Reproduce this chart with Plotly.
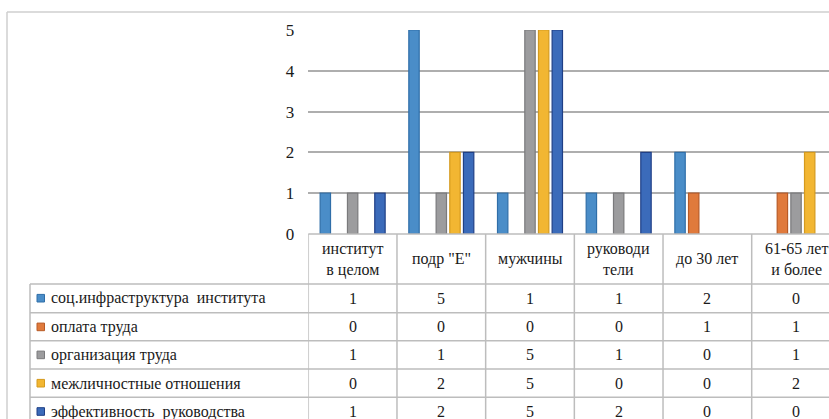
import plotly.graph_objects as go

categories = ["институт<br>в целом", "подр \"Е\"", "мужчины", "руководи<br>тели", "до 30 лет", "61-65 лет<br>и более"]
series_names = ["соц.инфраструктура \u00a0института", "оплата труда", "организация труда",
                "межличностные отношения", "эффективность \u00a0руководства"]
soc_infra = [1, 5, 1, 1, 2, 0]
oplata = [0, 0, 0, 0, 1, 1]
organizaciya = [1, 1, 5, 1, 0, 1]
mezhlich = [0, 2, 5, 0, 0, 2]
effekt = [1, 2, 5, 2, 0, 0]
y_ticks = [0, 1, 2, 3, 4, 5]

series_values = [soc_infra, oplata, organizaciya, mezhlich, effekt]
fills = ["#4A8DC8", "#E07A3C", "#9C9C9E", "#F2B632", "#3B6BBA"]
edges = ["#2F6EA8", "#B85A26", "#7A7A7C", "#D49A1E", "#1F3F86"]

W, H = 829, 419
def px(x):
    return x / W
def py(y):
    return 1 - y / H

FONT = "Liberation Serif, Times New Roman, Tinos, serif"
TXT = "#1a1a1a"
LINE = "#BDBDBD"

xidx = list(range(len(categories)))
fig = go.Figure()
for name, vals, fc, ec in zip(series_names, series_values, fills, edges):
    fig.add_trace(go.Bar(x=xidx, y=[v if v else None for v in vals], name=name,
                         marker=dict(color=fc, line=dict(color=ec, width=1.2)),
                         showlegend=False, hoverinfo="skip"))

plot_left, plot_top, plot_bottom = 308.3, 30, 234
cat_w = 88.68
x_right = -0.5 + (W - plot_left) / cat_w

shapes = []
shapes.append(dict(type="line", xref="paper", yref="paper", x0=px(7), x1=1, y0=py(12), y1=py(12),
                   line=dict(color="#CFCFCF", width=1.5)))
shapes.append(dict(type="line", xref="paper", yref="paper", x0=px(7), x1=px(7), y0=py(12), y1=0,
                   line=dict(color="#CFCFCF", width=1.5)))
shapes.append(dict(type="line", xref="paper", yref="paper", x0=px(plot_left), x1=1,
                   y0=py(plot_bottom), y1=py(plot_bottom), line=dict(color=LINE, width=1.5)))
for i in range(len(categories)):
    shapes.append(dict(type="line", xref="x", yref="paper", x0=i - 0.5, x1=i - 0.5,
                       y0=py(plot_bottom), y1=0, line=dict(color=LINE, width=1.5)))
row_tops = [284, 312.7, 340.7, 369, 397.3]
for r in row_tops:
    shapes.append(dict(type="line", xref="paper", yref="paper", x0=px(30), x1=1,
                       y0=py(r), y1=py(r), line=dict(color=LINE, width=1.5)))
shapes.append(dict(type="line", xref="paper", yref="paper", x0=px(30), x1=px(30),
                   y0=py(284), y1=0, line=dict(color=LINE, width=1.5)))

annotations = []
for i, c in enumerate(categories):
    annotations.append(dict(x=i, y=py(259), xref="x", yref="paper", text=c, showarrow=False,
                            xanchor="center", yanchor="middle",
                            font=dict(family=FONT, size=16, color=TXT)))
row_h = 28.4
for r, (name, vals, fc, ec) in enumerate(zip(series_names, series_values, fills, edges)):
    yc = row_tops[r] + row_h / 2
    shapes.append(dict(type="rect", xref="paper", yref="paper", x0=px(37), x1=px(44.5),
                       y0=py(yc + 3.8), y1=py(yc - 3.8), fillcolor=fc, line=dict(color=ec, width=1)))
    annotations.append(dict(x=px(49), y=py(yc), xref="paper", yref="paper", text=name,
                            showarrow=False, xanchor="left", yanchor="middle",
                            font=dict(family=FONT, size=16, color=TXT)))
    for i, v in enumerate(vals):
        annotations.append(dict(x=i, y=py(yc), xref="x", yref="paper", text=str(v),
                                showarrow=False, xanchor="center", yanchor="middle",
                                font=dict(family=FONT, size=16, color=TXT)))

fig.update_layout(
    template="none",
    width=W, height=H,
    margin=dict(l=0, r=0, t=0, b=0, pad=0, autoexpand=False),
    paper_bgcolor="white", plot_bgcolor="white",
    font=dict(family=FONT, size=16, color=TXT),
    barmode="group", bargap=0.23, bargroupgap=0.24,
    xaxis=dict(domain=[px(plot_left), 1], range=[-0.5, x_right], showticklabels=False, automargin=False,
               showgrid=False, zeroline=False, showline=False, ticks=""),
    yaxis=dict(domain=[py(plot_bottom), py(plot_top)], range=[0, 5], tickvals=y_ticks, automargin=False,
               showgrid=True, gridcolor="#AEAEAE", gridwidth=2, zeroline=False, showline=False,
               ticks="", ticklabelstandoff=13,
               tickfont=dict(family=FONT, size=17, color=TXT)),
    shapes=shapes, annotations=annotations,
)
fig.write_html("out.html", config=dict(displayModeBar=False),
               post_script="document.body.style.margin='0';document.body.style.overflow='hidden';")
